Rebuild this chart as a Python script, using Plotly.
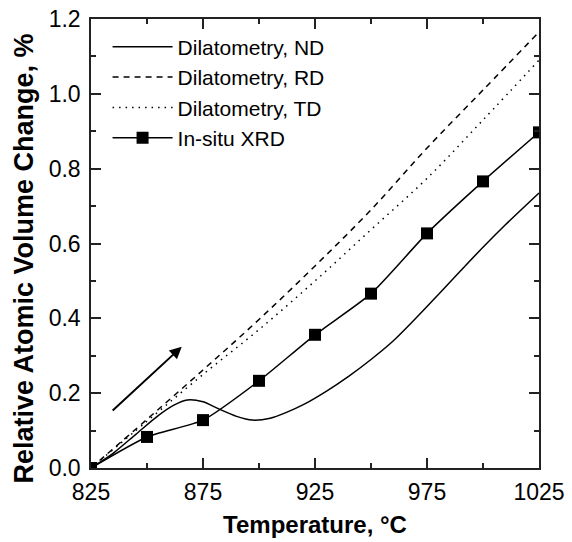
import plotly.graph_objects as go

# ---- data ----
T_nd = [825, 835, 845, 855, 862, 868, 875, 882, 890, 897, 905, 912, 920, 930, 940, 950, 960, 970, 980, 990, 1000, 1010, 1025]
nd = [0.0, 0.04, 0.09, 0.14, 0.168, 0.182, 0.177, 0.158, 0.138, 0.128, 0.133, 0.148, 0.17, 0.205, 0.245, 0.29, 0.34, 0.40, 0.463, 0.527, 0.59, 0.65, 0.735]

T_dil = [825, 850, 875, 900, 925, 950, 975, 1000, 1025]
rd = [0.0, 0.13, 0.262, 0.397, 0.54, 0.69, 0.855, 1.01, 1.165]
td = [0.0, 0.125, 0.25, 0.37, 0.5, 0.637, 0.774, 0.93, 1.09]

T_xrd = [825, 850, 875, 900, 925, 950, 975, 1000, 1025]
xrd = [0.0, 0.083, 0.128, 0.233, 0.356, 0.466, 0.627, 0.766, 0.897]

x_ticks = [825, 875, 925, 975, 1025]
y_ticks = [0.0, 0.2, 0.4, 0.6, 0.8, 1.0, 1.2]

# arrow (data coordinates)
arrow_start = (834, 0.150)
arrow_end = (865.5, 0.324)

FONT = "Liberation Sans, Arial, sans-serif"

fig = go.Figure()
fig.add_trace(go.Scatter(x=T_nd, y=nd, mode="lines", name="Dilatometry, ND",
                         line=dict(color="black", width=1.5, shape="spline", smoothing=0.8)))
fig.add_trace(go.Scatter(x=T_dil, y=rd, mode="lines", name="Dilatometry, RD",
                         line=dict(color="black", width=1.5, dash="6px,5px", shape="spline")))
fig.add_trace(go.Scatter(x=T_dil, y=td, mode="lines", name="Dilatometry, TD",
                         line=dict(color="black", width=1.5, dash="1.5px,5px", shape="spline")))
fig.add_trace(go.Scatter(x=T_xrd, y=xrd, mode="lines+markers", name="In-situ XRD",
                         line=dict(color="black", width=1.5, shape="spline", smoothing=0.6),
                         marker=dict(symbol="square", size=12, color="black")))

fig.add_annotation(x=arrow_end[0], y=arrow_end[1], ax=arrow_start[0], ay=arrow_start[1],
                   xref="x", yref="y", axref="x", ayref="y", text="",
                   showarrow=True, arrowhead=2, arrowsize=1.2, arrowwidth=2, arrowcolor="black")

# y-axis title as a rotated annotation (reference title sits slightly below axis centre)
fig.add_annotation(x=-0.150, y=0.466, xref="paper", yref="paper",
                   text="<b>Relative Atomic Volume Change, %</b>", textangle=-90,
                   showarrow=False, xanchor="center", yanchor="middle",
                   font=dict(family=FONT, size=27, color="black"))

axis_common = dict(showline=True, linecolor="#222", linewidth=1.5, mirror="allticks",
                   ticks="inside", ticklen=10, tickwidth=1.5, tickcolor="#222",
                   showgrid=False, zeroline=False, automargin=False,
                   tickfont=dict(family=FONT, size=23, color="black"))

fig.update_xaxes(range=[825, 1025], tickvals=x_ticks, ticktext=[str(v) for v in x_ticks],
                 minor=dict(dtick=25, tick0=825, ticks="inside", ticklen=5, tickwidth=1.5, tickcolor="#222"),
                 title=dict(text="<b>Temperature, °C</b>", font=dict(family=FONT, size=24, color="black"), standoff=12),
                 ticklabelstandoff=3,
                 **axis_common)
fig.update_yaxes(range=[0, 1.2], tickvals=y_ticks, ticktext=[f"{v:.1f}" for v in y_ticks],
                 minor=dict(dtick=0.1, tick0=0, ticks="inside", ticklen=5, tickwidth=1.5, tickcolor="#222"),
                 ticklabelstandoff=4,
                 **axis_common)

fig.update_layout(
    width=572, height=542,
    margin=dict(l=91, r=33, t=19, b=74),
    paper_bgcolor="white", plot_bgcolor="white",
    font=dict(family=FONT, color="black"),
    showlegend=True,
    legend=dict(x=0.037, y=0.983, xanchor="left", yanchor="top",
                bgcolor="rgba(0,0,0,0)", borderwidth=0,
                font=dict(family=FONT, size=21, color="black"),
                itemwidth=60, tracegroupgap=0),
)

fig.write_html("out.html")
